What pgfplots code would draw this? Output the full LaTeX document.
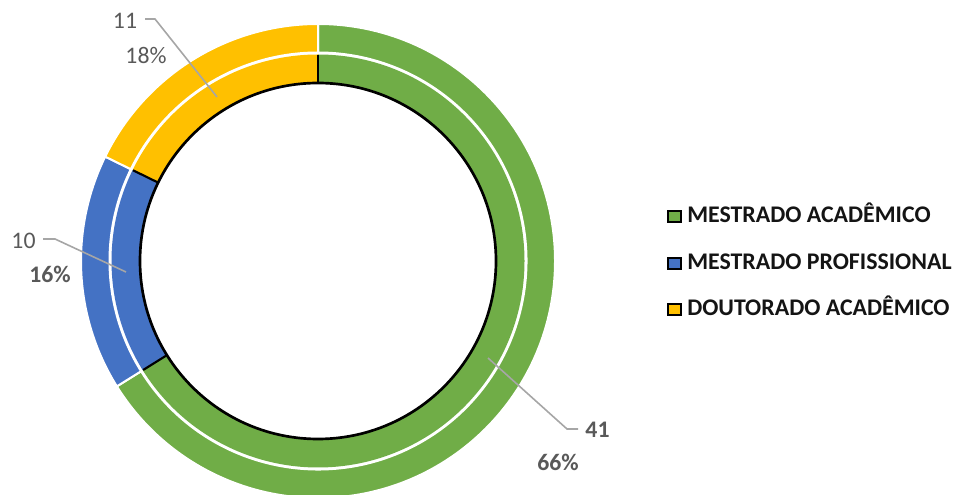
\documentclass[border=0pt]{standalone}
\usepackage{pgfplots}
\pgfplotsset{compat=1.18}
\usepackage{pgfplotstable}
\usepackage{fontspec}
\setmainfont{Carlito}
\definecolor{cgreen}{HTML}{70AD47}
\definecolor{cblue}{HTML}{4472C4}
\definecolor{cyellow}{HTML}{FFC000}
\definecolor{lblgray}{HTML}{595959}
\definecolor{leader}{HTML}{A6A6A6}
\definecolor{legtext}{HTML}{141414}

\pgfplotstableread[col sep=comma]{
name,value,colour
MESTRADO ACADÊMICO,41,cgreen
MESTRADO PROFISSIONAL,10,cblue
DOUTORADO ACADÊMICO,11,cyellow
}\donut

\begin{document}
\begin{tikzpicture}
\pgfplotstablegetrowsof{\donut}\pgfmathtruncatemacro\nlast{\pgfplotsretval-1}
\def\total{0}
\pgfplotsforeachungrouped \i in {0,...,\nlast}{%
  \pgfplotstablegetelem{\i}{value}\of\donut
  \pgfmathsetmacro\total{\total+\pgfplotsretval}}
\begin{axis}[hide axis, x=0.75pt, y=0.75pt, xmin=-318, xmax=637, ymin=-234, ymax=261, clip=false]
\def\cum{0}
\pgfplotsforeachungrouped \i in {0,...,\nlast}{%
  \pgfplotstablegetelem{\i}{value}\of\donut \let\sliceval\pgfplotsretval
  \pgfplotstablegetelem{\i}{colour}\of\donut \let\slicecol\pgfplotsretval
  \pgfmathsetmacro\angA{90-360*(\cum/\total)}
  \pgfmathsetmacro\cum{\cum+\sliceval}
  \pgfmathsetmacro\angB{90-360*(\cum/\total)}
  \edef\temp{\noexpand\fill[\slicecol, draw=white, line width=1.5pt]
    ([shift={(\angA:177.75pt)}]axis cs:0,0) arc[start angle=\angA, end angle=\angB, radius=177.75pt]
    -- ([shift={(\angB:156.375pt)}]axis cs:0,0) arc[start angle=\angB, end angle=\angA, radius=156.375pt] -- cycle;
    \noexpand\fill[\slicecol]
    ([shift={(\angA:154.875pt)}]axis cs:0,0) arc[start angle=\angA, end angle=\angB, radius=154.875pt]
    -- ([shift={(\angB:133.5pt)}]axis cs:0,0) arc[start angle=\angB, end angle=\angA, radius=133.5pt] -- cycle;}%
  \temp
}
\def\cum{0}
\pgfplotsforeachungrouped \i in {0,...,\nlast}{%
  \pgfplotstablegetelem{\i}{value}\of\donut \let\sliceval\pgfplotsretval
  \pgfmathsetmacro\angA{90-360*(\cum/\total)}
  \pgfmathsetmacro\cum{\cum+\sliceval}
  \edef\temp{\noexpand\draw[black, line width=1.6pt]
    ([shift={(\angA:133.5pt)}]axis cs:0,0) -- ([shift={(\angA:154.5pt)}]axis cs:0,0);}%
  \temp
}
\draw[black, line width=2pt] (axis cs:0,0) circle[radius=133.5pt];
% leader lines
\draw[leader, line width=1.2pt] (axis cs:-173,242) -- (axis cs:-163,242) -- (axis cs:-101,164);
\draw[leader, line width=1.2pt] (axis cs:-275,22) -- (axis cs:-263,22) -- (axis cs:-192,-11);
\draw[leader, line width=1.2pt] (axis cs:260,-168) -- (axis cs:249,-168) -- (axis cs:170,-97);
% data labels
\tikzset{lbl/.style={text=lblgray, inner sep=0pt, font=\fontsize{17.8}{20}\selectfont}}
\node[lbl] at (axis cs:-193,240) {11};
\node[lbl] at (axis cs:-172,205) {18\%};
\node[lbl] at (axis cs:-294.5,20.5) {10};
\node[lbl, font=\fontsize{17.8}{20}\selectfont\bfseries] at (axis cs:-268,-13.5) {16\%};
\node[lbl, font=\fontsize{17.8}{20}\selectfont\bfseries] at (axis cs:279.5,-169) {41};
\node[lbl, font=\fontsize{17.8}{20}\selectfont\bfseries] at (axis cs:240,-201.5) {66\%};
% legend
\tikzset{leg/.style={text=legtext, inner sep=0pt, anchor=base west, font=\fontsize{17.9}{20}\selectfont\bfseries}}
\draw[fill=cgreen, draw=black, line width=1.6pt] (axis cs:350,50) rectangle (axis cs:363,39);
\node[leg] at (axis cs:369,38) {MESTRADO ACADÊMICO};
\draw[fill=cblue, draw=black, line width=1.6pt] (axis cs:350,3) rectangle (axis cs:363,-8);
\node[leg] at (axis cs:369,-9) {MESTRADO PROFISSIONAL};
\draw[fill=cyellow, draw=black, line width=1.6pt] (axis cs:350,-43) rectangle (axis cs:363,-54);
\node[leg] at (axis cs:369,-55) {DOUTORADO ACADÊMICO};
\end{axis}
\pgfresetboundingbox
\useasboundingbox (current axis.south west) rectangle (current axis.north east);
\end{tikzpicture}
\end{document}
